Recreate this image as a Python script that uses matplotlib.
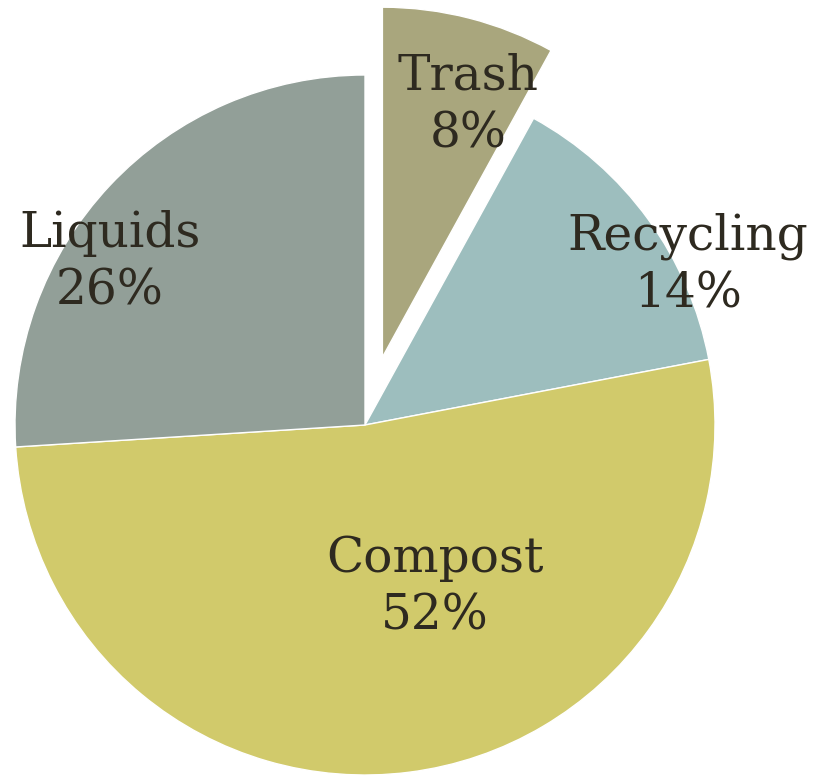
import matplotlib
matplotlib.use("Agg")
import matplotlib.pyplot as plt

categories = ["Trash", "Recycling", "Compost", "Liquids"]
shares = [8, 14, 52, 26]
colors = ["#A9A67D", "#9DBEBE", "#D1CA6B", "#929F98"]
explode = [0.2, 0, 0, 0]
# label anchor positions (data units, pie radius = 1)
label_xy = [(0.294, 0.914), (0.923, 0.457), (0.20, -0.463), (-0.729, 0.466)]

fig = plt.figure(figsize=(8.14, 7.78), dpi=100)
ax = fig.add_axes([0, 0, 1, 1])
ax.pie(shares, colors=colors, explode=explode, startangle=90, counterclock=False,
       radius=1.0, wedgeprops=dict(edgecolor="white", linewidth=1))
for name, val, (x, y) in zip(categories, shares, label_xy):
    ax.text(x, y, f"{name}\n{val}%", ha="center", va="center", fontsize=35,
            family="DejaVu Serif", color="#2E2A20", linespacing=1.28)
ax.set_xlim(-365 / 350, (814 - 365) / 350)
ax.set_ylim(-(778 - 425) / 350, 425 / 350)
ax.set_aspect("auto")
ax.axis("off")
fig.savefig("out.png", dpi=100)
